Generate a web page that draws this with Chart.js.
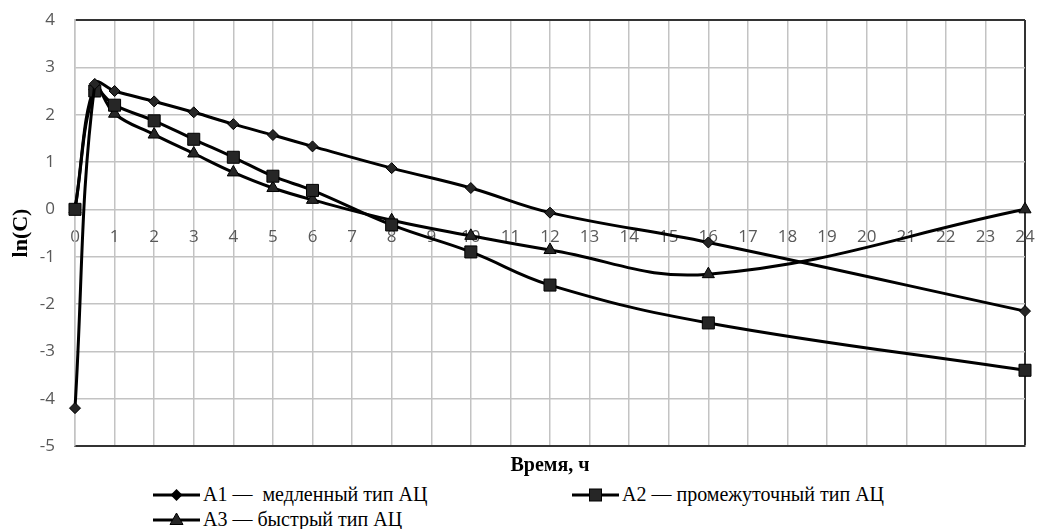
<!DOCTYPE html>
<html>
<head>
<meta charset="utf-8">
<script src="https://cdn.jsdelivr.net/npm/chart.js@4"></script>
<style>
  html, body { margin: 0; padding: 0; background: #fff; overflow: hidden; }
  #wrap { position: relative; width: 1038px; height: 478px; }
  #legend {
    width: 1038px; height: 51px; box-sizing: border-box;
    padding: 4px 0 0 153px;
    display: grid; grid-template-columns: 419px auto; grid-auto-rows: 25px;
    font-family: 'Liberation Serif', 'Times New Roman', serif; font-size: 20px; color: #000;
  }
  .item { display: flex; align-items: center; white-space: pre; }
  .item svg { margin-right: 3px; flex: none; }
</style>
</head>
<body>
<div id="wrap"><canvas id="chart"></canvas></div>
<div id="legend"></div>
<script>
// время, ч
const hours = [0, 0.5, 1, 2, 3, 4, 5, 6, 8, 10, 12, 16, 24];
// ln(C) по типам ацетилирования
const a1 = [-4.2, 2.65, 2.5, 2.28, 2.05, 1.8, 1.57, 1.33, 0.87, 0.45, -0.07, -0.7, -2.15];
const a2 = [0, 2.5, 2.2, 1.87, 1.48, 1.1, 0.7, 0.4, -0.33, -0.9, -1.6, -2.4, -3.4];
const a3 = [0, 2.6, 2.02, 1.58, 1.18, 0.78, 0.45, 0.2, -0.23, -0.56, -0.86, -1.37, 0];
const seriesNames = ['A1 —  медленный тип АЦ', 'A2 — промежуточный тип АЦ', 'A3 — быстрый тип АЦ'];
const markers = ['rectRot', 'rect', 'triangle'];
const markerSizes = [5.5, 8.5, 7];
const xRange = [0, 24];
const yRange = [-5, 4];

Chart.defaults.font.family = "'Open Sans', sans-serif";

const gridGray = '#c3c3c3';
const dark = '#333';

function toPoints(ys) {
    return hours.map((h, i) => ({ x: h, y: ys[i] }));
}

const datasets = [a1, a2, a3].map((ys, i) => ({
    label: seriesNames[i],
    data: toPoints(ys),
    borderColor: '#000',
    borderWidth: 3,
    pointStyle: markers[i],
    pointRadius: markerSizes[i],
    pointBackgroundColor: '#262626',
    pointBorderColor: '#000',
    pointBorderWidth: 1,
    tension: 0.4,
    clip: false
}));

new Chart(document.getElementById('chart'), {
    type: 'line',
    data: { datasets: datasets },
    options: {
        responsive: true, maintainAspectRatio: false, animation: false,
        layout: { padding: { top: 20, right: 13, left: 0, bottom: 0 } },
        plugins: { legend: { display: false }, tooltip: { enabled: false } },
        scales: {
            x: {
                type: 'linear', min: xRange[0], max: xRange[1],
                ticks: { stepSize: 1, display: false },
                grid: {
                    drawTicks: false,
                    color: ctx => ctx.tick && ctx.tick.value === xRange[1] ? dark : gridGray,
                    lineWidth: ctx => ctx.tick && ctx.tick.value === xRange[1] ? 2 : 1.5
                },
                border: { color: dark, width: 2 },
                title: {
                    display: true, text: 'Время, ч', color: '#000',
                    font: { family: "'Liberation Serif', serif", size: 20, weight: 'bold' },
                    padding: { top: 8, bottom: 0 }
                }
            },
            xt: {
                type: 'linear', axis: 'x', position: { y: 0 },
                min: xRange[0], max: xRange[1],
                ticks: { stepSize: 1, color: '#595959', font: { size: 17 }, padding: 0 },
                grid: { display: false, drawTicks: true, tickLength: 18 },
                border: { display: false }
            },
            y: {
                min: yRange[0], max: yRange[1],
                ticks: { stepSize: 1, color: '#595959', font: { size: 17 }, padding: 3 },
                grid: {
                    drawTicks: true, tickLength: 17, tickColor: 'transparent',
                    color: ctx => ctx.tick && ctx.tick.value === yRange[1] ? dark : gridGray,
                    lineWidth: ctx => ctx.tick && ctx.tick.value === yRange[1] ? 2 : 1.5
                },
                border: { color: gridGray, width: 1.5 },
                title: {
                    display: true, text: 'ln(C)', color: '#000',
                    font: { family: "'Liberation Serif', serif", size: 22, weight: 'bold' },
                    padding: { top: 8, bottom: 4 }
                },
                afterFit: scale => { scale.width = 75; }
            }
        }
    }
});

// легенда: линия с маркером + подпись
function markerSvg(style) {
    const c = 23.5, m = 8;
    let shape = '';
    if (style === 'rectRot') shape = `<polygon points="${c},${m - 6} ${c + 6},${m} ${c},${m + 6} ${c - 6},${m}" fill="#000"/>`;
    if (style === 'rect') shape = `<rect x="${c - 6}" y="${m - 6}" width="12" height="12" fill="#262626" stroke="#000"/>`;
    if (style === 'triangle') shape = `<polygon points="${c},${m - 7} ${c + 6.5},${m + 4.5} ${c - 6.5},${m + 4.5}" fill="#262626" stroke="#000"/>`;
    return `<svg width="47" height="16"><line x1="0" y1="${m}" x2="47" y2="${m}" stroke="#000" stroke-width="3"/>${shape}</svg>`;
}
document.getElementById('legend').innerHTML = seriesNames
    .map((name, i) => `<div class="item">${markerSvg(markers[i])}<span>${name}</span></div>`)
    .join('');
</script>
</body>
</html>
